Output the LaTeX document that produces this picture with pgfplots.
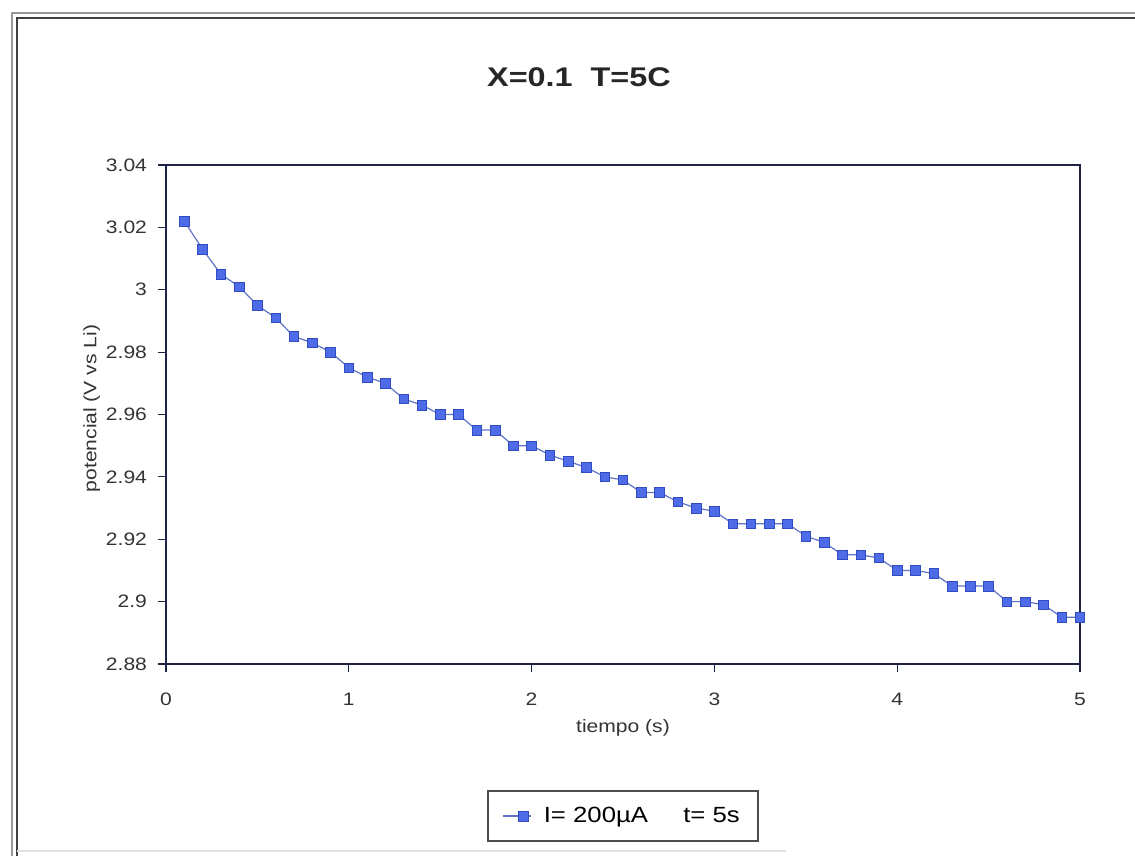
\documentclass[border=0pt]{standalone}
\usepackage{pgfplots}
\pgfplotsset{compat=1.18}
\usepackage{fontspec}
\setmainfont{Liberation Sans}[FakeStretch=1.17]
\newfontfamily\titlefont{Liberation Sans}[FakeStretch=1.2]
\definecolor{mkfill}{RGB}{78,108,232}
\definecolor{mkedge}{RGB}{50,75,190}
\definecolor{linec}{RGB}{95,115,200}
\definecolor{axc}{RGB}{30,35,70}

\begin{document}
\begin{tikzpicture}
  \useasboundingbox (-83pt,-96pt) rectangle (484.5pt,332pt);
  \begin{axis}[
    name=ax,
    at={(0,0)}, anchor=south west,
    scale only axis,
    width=457pt, height=249.5pt,
    xmin=0, xmax=5, ymin=2.88, ymax=3.04,
    xtick={0,1,2,3,4,5},
    ytick={2.88,2.90,2.92,2.94,2.96,2.98,3.00,3.02,3.04},
    yticklabels={2.88,2.9,2.92,2.94,2.96,2.98,3,3.02,3.04},
    tick align=outside,
    major tick length=4pt,
    xtick pos=bottom, ytick pos=left,
    axis line style={axc, line width=0.9pt},
    tick style={axc, line width=0.6pt},
    tick label style={font=\fontsize{9}{10}\selectfont, text=black!80},
    xticklabel style={yshift=-7pt},
    yticklabel style={xshift=-2pt},
    label style={font=\fontsize{9}{10}\selectfont, text=black!80},
    /pgf/number format/assume math mode=true,
    xlabel={tiempo (s)}, ylabel={potencial (V vs Li)},
    xlabel style={yshift=0pt},
    ylabel style={yshift=-4pt, xshift=3pt},
    title={X=0.1\ \ T=5C},
    title style={font=\titlefont\fontsize{13.5}{15}\selectfont\bfseries, text=black!85,
      at={(0.5,1)}, anchor=center, xshift=-22pt, yshift=38pt},
    legend style={at={(0.5,0)}, anchor=center, yshift=-76pt,
      draw=black!70, line width=0.8pt, font=\fontsize{11}{12}\selectfont,
      inner xsep=7pt, inner ysep=6pt},
    legend cell align=left,
    legend image code/.code={%
      \draw[mark repeat=2, mark phase=2, #1]
        plot coordinates {(0cm,0cm) (0.36cm,0cm) (0.5cm,0cm)};},
  ]
    \addplot[color=linec, line width=0.6pt, mark=square*,
      mark options={fill=mkfill, draw=mkedge, line width=0.3pt}, mark size=2.4pt]
      coordinates {
        (0.1,3.022)(0.2,3.013)(0.3,3.005)(0.4,3.001)(0.5,2.995)
        (0.6,2.991)(0.7,2.985)(0.8,2.983)(0.9,2.980)(1.0,2.975)
        (1.1,2.972)(1.2,2.970)(1.3,2.965)(1.4,2.963)(1.5,2.960)
        (1.6,2.960)(1.7,2.955)(1.8,2.955)(1.9,2.950)(2.0,2.950)
        (2.1,2.947)(2.2,2.945)(2.3,2.943)(2.4,2.940)(2.5,2.939)
        (2.6,2.935)(2.7,2.935)(2.8,2.932)(2.9,2.930)(3.0,2.929)
        (3.1,2.925)(3.2,2.925)(3.3,2.925)(3.4,2.925)(3.5,2.921)
        (3.6,2.919)(3.7,2.915)(3.8,2.915)(3.9,2.914)(4.0,2.910)
        (4.1,2.910)(4.2,2.909)(4.3,2.905)(4.4,2.905)(4.5,2.905)
        (4.6,2.900)(4.7,2.900)(4.8,2.899)(4.9,2.895)(5.0,2.895)
      };
    \legend{\hspace*{4pt}I= 200µA\hspace{1.6em}t= 5s}
  \end{axis}
  % outer frame of the chart area
  \draw[black!40, line width=0.9pt]
    (-77pt,-96pt) -- (-77pt,325.5pt) -- (484.5pt,325.5pt);
  \draw[black!75, line width=1.1pt]
    (-74.5pt,-96pt) -- (-74.5pt,323pt) -- (484.5pt,323pt);
  \draw[black!12, line width=0.6pt] (-74.5pt,-93.5pt) -- (310pt,-93.5pt);
\end{tikzpicture}
\end{document}
